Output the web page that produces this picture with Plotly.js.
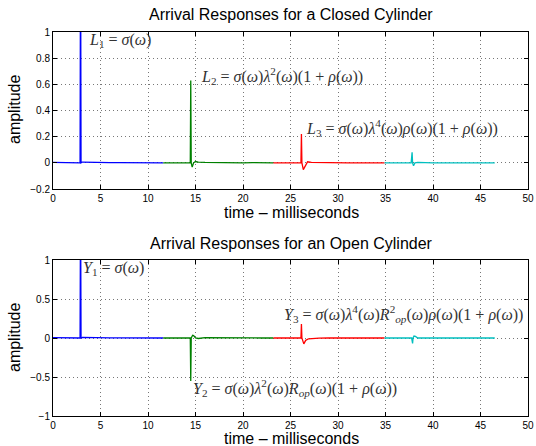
<!DOCTYPE html>
<html><head><meta charset="utf-8">
<script src="https://cdn.plot.ly/plotly-3.0.1.min.js"></script>
<style>html,body{margin:0;padding:0;background:#fff}#plot{width:536px;height:446px}</style>
</head><body><div id="plot"></div>
<script>
// ---- Closed cylinder ----
const closedL1X = [0, 1, 2, 2.85, 2.9, 2.95, 3.1, 4, 5, 6, 7, 8, 9, 10, 11, 11.6];
const closedL1Y = [0.004, 0.004, 0.003, 0.0, 1.8, 0.0, 0.006, 0.003, 0.002, 0.001, 0.002, 0.001, 0.0, 0.001, 0.0, 0.0];
const closedL2X = [11.6, 12.5, 13.5, 14.3, 14.45, 14.5, 14.55, 14.65, 14.8, 15.0, 15.3, 16, 17, 18, 19, 20, 21, 22, 23.2];
const closedL2Y = [0.0, 0.0, -0.002, -0.004, 0.0, 0.63, 0.0, -0.032, 0.0, 0.01, 0.006, 0.004, 0.002, 0.001, 0.001, 0.0, 0.001, 0.0, 0.0];
const closedL3X = [23.2, 24, 25, 25.9, 26.1, 26.15, 26.2, 26.35, 26.55, 26.8, 27.2, 28, 29, 30, 31, 32, 33, 34, 34.9];
const closedL3Y = [0.0, 0.0, 0.0, -0.003, 0.0, 0.22, 0.0, -0.052, -0.02, 0.008, 0.004, 0.002, 0.001, 0.0, 0.0, 0.0, 0.0, 0.0, 0.0];
const closedL4X = [34.9, 36, 37, 37.7, 37.8, 37.85, 37.95, 38.1, 38.4, 39, 40, 42, 44, 46.5];
const closedL4Y = [0.0, 0.0, 0.0, 0.0, 0.08, 0.0, -0.022, 0.0, 0.004, 0.001, 0.0, 0.0, 0.0, 0.0];
// ---- Open cylinder ----
const openY1X = [0, 1, 2, 2.85, 2.9, 2.95, 3.1, 4, 5, 6, 7, 8, 9, 10, 11, 11.6];
const openY1Y = [0.004, 0.003, 0.002, 0.0, 1.8, 0.0, 0.008, 0.003, 0.002, 0.001, 0.001, 0.001, 0.0, 0.0, 0.0, 0.0];
const openY2X = [11.6, 12.5, 13.5, 14.3, 14.45, 14.5, 14.55, 14.7, 14.8, 15.0, 15.3, 16, 17, 18, 19, 20, 21, 22, 23.2];
const openY2Y = [0.0, 0.0, 0.0, 0.004, 0.0, -0.55, 0.0, 0.035, 0.03, 0.0, -0.006, 0.004, 0.002, 0.001, 0.0, 0.0, 0.0, 0.0, 0.0];
const openY3X = [23.2, 24, 25, 25.9, 26.1, 26.15, 26.2, 26.4, 26.6, 26.9, 27.3, 28, 29, 30, 31, 32, 33, 34, 34.9];
const openY3Y = [0.0, 0.0, 0.0, -0.003, 0.0, 0.18, 0.0, -0.075, -0.03, -0.01, -0.004, -0.002, 0.0, 0.0, 0.0, 0.0, 0.0, 0.0, 0.0];
const openY4X = [34.9, 36, 37, 37.75, 37.85, 37.9, 38.0, 38.15, 38.4, 39, 40, 42, 44, 46.5];
const openY4Y = [0.0, 0.0, 0.0, 0.0, -0.07, 0.0, 0.025, 0.02, 0.0, 0.0, 0.0, 0.0, 0.0, 0.0];
// ---- Ticks ----
const xTicks = [0, 5, 10, 15, 20, 25, 30, 35, 40, 45, 50];
const topYTicks = [-0.2, 0, 0.2, 0.4, 0.6, 0.8, 1];
const topYLabels = ['\u22120.2', '0', '0.2', '0.4', '0.6', '0.8', '1'];
const botYTicks = [-1, -0.5, 0, 0.5, 1];
const botYLabels = ['\u22121', '\u22120.5', '0', '0.5', '1'];

const colors = ['#0000ff', '#008000', '#ff0000', '#00bfbf'];
function tr(x, y, c, xa, ya) {
  return {x: x, y: y, type: 'scatter', mode: 'lines', xaxis: xa, yaxis: ya,
          line: {color: c, width: 1.3}, showlegend: false, hoverinfo: 'skip'};
}
const data = [
  tr(closedL1X, closedL1Y, colors[0], 'x', 'y'),
  tr(closedL2X, closedL2Y, colors[1], 'x', 'y'),
  tr(closedL3X, closedL3Y, colors[2], 'x', 'y'),
  tr(closedL4X, closedL4Y, colors[3], 'x', 'y'),
  tr(openY1X, openY1Y, colors[0], 'x2', 'y2'),
  tr(openY2X, openY2Y, colors[1], 'x2', 'y2'),
  tr(openY3X, openY3Y, colors[2], 'x2', 'y2'),
  tr(openY4X, openY4Y, colors[3], 'x2', 'y2')
];

const axBase = {
  showline: true, mirror: 'ticks', linecolor: '#000', linewidth: 1,
  ticks: 'inside', ticklen: 4, tickcolor: '#000', tickwidth: 1,
  showgrid: true, gridcolor: '#777', griddash: '1px,3px', gridwidth: 1,
  zeroline: false, tickfont: {family: 'Liberation Sans, Arial, sans-serif', size: 10, color: '#000'},
  fixedrange: true
};
const xa = Object.assign({}, axBase, {range: [0, 50], tickvals: xTicks, ticktext: xTicks.map(String)});

const mathFont = {family: 'Liberation Serif, DejaVu Serif, serif', size: 16, color: '#333'};
const lblFont = {family: 'Liberation Sans, Arial, sans-serif', size: 16, color: '#000'};
const ttlFont = {family: 'Liberation Sans, Arial, sans-serif', size: 16, color: '#000'};

function mathAnn(text, x, y, xr, yr) {
  return {text: text, x: x, y: y, xref: xr, yref: yr, xanchor: 'left', yanchor: 'middle',
          showarrow: false, font: mathFont};
}
function paperAnn(text, x, y, font, angle) {
  return {text: text, x: x, y: y, xref: 'paper', yref: 'paper', xanchor: 'center', yanchor: 'middle',
          showarrow: false, font: font, textangle: angle || 0};
}
// paper: plot area x 53..528, y 0..446 (top at 446)
function px(p) { return (p - 53) / 475; }
function py(p) { return 1 - p / 446; }

const layout = {
  width: 536, height: 446,
  margin: {l: 53, r: 8, t: 0, b: 0},
  paper_bgcolor: '#fff', plot_bgcolor: '#fff',
  xaxis: Object.assign({}, xa, {domain: [0, 1], anchor: 'y'}),
  yaxis: Object.assign({}, axBase, {domain: [py(189), py(32)], range: [-0.2, 1], tickvals: topYTicks, ticktext: topYLabels, anchor: 'x'}),
  xaxis2: Object.assign({}, xa, {domain: [0, 1], anchor: 'y2'}),
  yaxis2: Object.assign({}, axBase, {domain: [py(416), py(260)], range: [-1, 1], tickvals: botYTicks, ticktext: botYLabels, anchor: 'x2'}),
  annotations: [
    paperAnn('Arrival Responses for a Closed Cylinder', px(291), py(15), ttlFont),
    paperAnn('Arrival Responses for an Open Cylinder', px(291), py(243), ttlFont),
    paperAnn('time \u2013 milliseconds', px(291), py(213), lblFont),
    {text: 'time \u2013 milliseconds', x: px(291), y: 0, xref: 'paper', yref: 'paper', xanchor: 'center', yanchor: 'bottom',
     yshift: -3, showarrow: false, font: lblFont},
    paperAnn('amplitude', px(14), py(110), lblFont, -90),
    paperAnn('amplitude', px(14), py(338), lblFont, -90),
    mathAnn('<i>L</i><sub>1</sub> = <i>σ</i>(<i>ω</i>)', 3.55, 0.935, 'x', 'y'),
    mathAnn('<i>L</i><sub>2</sub> = <i>σ</i>(<i>ω</i>)<i>λ</i><sup>2</sup>(<i>ω</i>)(1 + <i>ρ</i>(<i>ω</i>))', 15.35, 0.665, 'x', 'y'),
    mathAnn('<i>L</i><sub>3</sub> = <i>σ</i>(<i>ω</i>)<i>λ</i><sup>4</sup>(<i>ω</i>)<i>ρ</i>(<i>ω</i>)(1 + <i>ρ</i>(<i>ω</i>))', 26.4, 0.265, 'x', 'y'),
    mathAnn('<i>Y</i><sub>1</sub> = <i>σ</i>(<i>ω</i>)', 2.95, 0.89, 'x2', 'y2'),
    mathAnn('<i>Y</i><sub>2</sub> = <i>σ</i>(<i>ω</i>)<i>λ</i><sup>2</sup>(<i>ω</i>)<i>R</i><sub><i>op</i></sub>(<i>ω</i>)(1 + <i>ρ</i>(<i>ω</i>))', 14.55, -0.64, 'x2', 'y2'),
    mathAnn('<i>Y</i><sub>3</sub> = <i>σ</i>(<i>ω</i>)<i>λ</i><sup>4</sup>(<i>ω</i>)<i>R</i><sup>2</sup><sub><i>op</i></sub>(<i>ω</i>)<i>ρ</i>(<i>ω</i>)(1 + <i>ρ</i>(<i>ω</i>))', 24.1, 0.31, 'x2', 'y2')
  ]
};
Plotly.newPlot('plot', data, layout, {displayModeBar: false, staticPlot: true});
</script></body></html>
